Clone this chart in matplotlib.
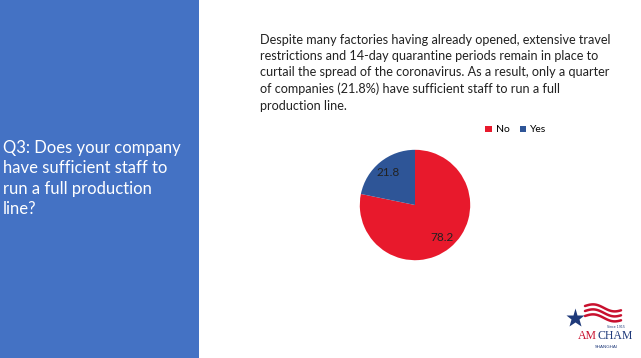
import numpy as np
import matplotlib.pyplot as plt
from matplotlib.patches import Rectangle

# data
labels = ["No", "Yes"]
values = [78.2, 21.8]
colors = ["#E8192C", "#2E5597"]

question = "Q3: Does your company\nhave sufficient staff to\nrun a full production\nline?"
note = ("Despite many factories having already opened, extensive travel\n"
        "restrictions and 14-day quarantine periods remain in place to\n"
        "curtail the spread of the coronavirus. As a result, only a quarter\n"
        "of companies (21.8%) have sufficient staff to run a full\n"
        "production line.")

W, H = 641, 358
fig = plt.figure(figsize=(W / 100, H / 100), dpi=100)
fig.patch.set_facecolor("white")

# blue side panel
fig.patches.append(Rectangle((0, 0), 199 / W, 1, transform=fig.transFigure,
                             facecolor="#4472C4", edgecolor="none", zorder=0))
fig.text(3 / W, 1 - 140 / H, question, color="white", fontsize=12.0,
         family="Lato", va="top", ha="left", linespacing=1.33)

fig.text(260 / W, 1 - 34 / H, note, color="#222222", fontsize=9.1,
         family="Lato", va="top", ha="left", linespacing=1.42)

# pie
cx, cy, r = 415, 205, 69
ax = fig.add_axes([(cx - r) / W, 1 - (cy + r) / H, 2 * r / W, 2 * r / H])
wedges, texts = ax.pie(values, colors=colors, startangle=90, counterclock=False,
                       wedgeprops=dict(edgecolor="none"))
ax.set_aspect("equal")
for w, v in zip(wedges, values):
    ang = np.deg2rad((w.theta1 + w.theta2) / 2)
    ax.text(0.77 * np.cos(ang), 0.77 * np.sin(ang), f"{v:.1f}", ha="center",
            va="center", fontsize=8.5, family="Lato", color="#222222")

fig.legend(wedges, labels, loc="center left", bbox_to_anchor=(476 / W, 1 - 130 / H),
           ncol=2, frameon=False, handlelength=0.6, handleheight=0.6,
           handletextpad=0.4, columnspacing=1.0, prop=dict(family="Lato", size=7.5))

# logo
fig.text(597 / W, 1 - 336 / H, "AM", color="#C8102E", fontsize=8.5, family="Liberation Serif",
         ha="right", va="center")
fig.text(597.5 / W, 1 - 336 / H, "CHAM", color="#1F3A7A", fontsize=8.5, family="Liberation Serif",
         ha="left", va="center")
fig.text(606 / W, 1 - 347 / H, "SHANGHAI", color="#1F3A7A", fontsize=3.2,
         ha="center", va="center")
fig.text(616 / W, 1 - 327 / H, "Since 1915", color="#1F3A7A", fontsize=2.3,
         ha="center", va="center")
lax = fig.add_axes([565 / W, 1 - 330 / H, 60 / W, 30 / H])
lax.set_xlim(0, 60)
lax.set_ylim(0, 30)
lax.axis("off")
for y0 in [24, 19, 14]:
    xs = np.linspace(20, 56, 30)
    lax.plot(xs, y0 + 2.5 * np.sin((xs - 20) / 6) - (xs - 20) * 0.1, color="#C8102E",
             lw=1.8, solid_capstyle="round")
lax.plot([10], [12], marker="*", markersize=14, color="#1F3A7A", mec="none")

fig.savefig("out.png", dpi=100)
